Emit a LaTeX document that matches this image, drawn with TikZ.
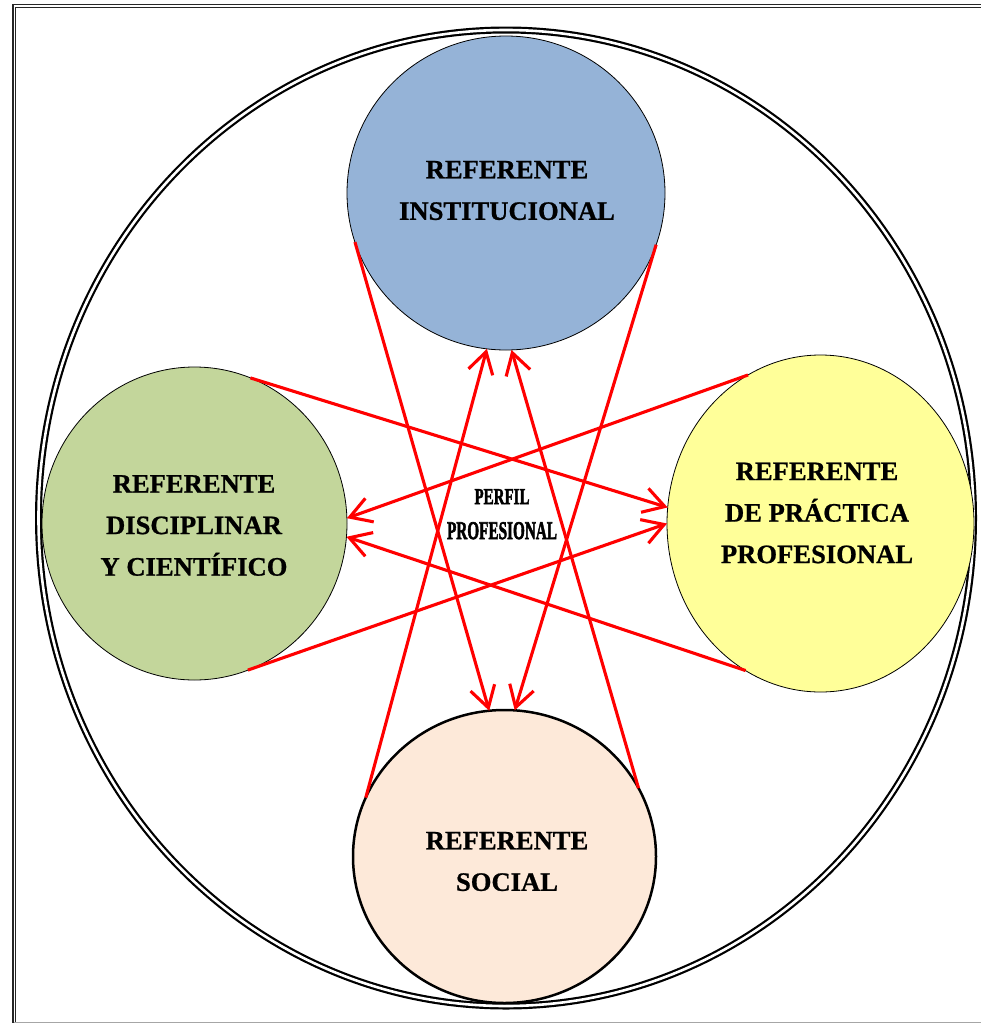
\documentclass[tikz,border=0pt]{standalone}
\usepackage{fontspec}
\setmainfont{Liberation Serif}
\usepackage{graphicx}
\usetikzlibrary{shapes.geometric,arrows.meta}
\definecolor{cblue}{HTML}{95B3D7}
\definecolor{cgreen}{HTML}{C3D69B}
\definecolor{cyellow}{HTML}{FFFF99}
\definecolor{cpeach}{HTML}{FDE9D9}
\definecolor{cred}{HTML}{FF0000}
\tikzset{
  refcircle/.style={ellipse, draw=black, line width=0.8pt, inner sep=0pt, outer sep=0pt},
  lbl/.style={align=center, inner sep=0pt, font=\bfseries\addfontfeature{FakeBold=0.8}\fontsize{26.6}{41.5}\selectfont},
  arr/.style={draw=cred, line width=3.1pt, -{Straight Barb[length=21pt,width=25pt]}},
  ring/.style={draw=black, line width=2.2pt, double=white, double distance=2.6pt},
  frameline/.style={draw=black!85, line width=1.3pt, double=white, double distance=1.3pt}
}
\begin{document}
\begin{tikzpicture}[x=1pt,y=-1pt]
\useasboundingbox (0,0) rectangle (981,1023);
\fill[white] (0,0) rectangle (981,1023);
% frame
\draw[frameline] (14.3,1023) -- (14.3,6) -- (981,6);
\draw[draw=black!35, line width=1.2pt] (14,1022.4) -- (981,1022.4);
% outer ring
\draw[ring] (506,518) ellipse [x radius=467.5, y radius=488];
% circles
\node[refcircle, fill=cblue, minimum width=318pt, minimum height=314pt] (inst) at (506,193) {};
\node[refcircle, fill=cgreen, minimum width=305pt, minimum height=313pt] (disc) at (194.5,523.5) {};
\node[refcircle, fill=cyellow, minimum width=307pt, minimum height=337pt] (prac) at (820.5,523.5) {};
\node[refcircle, fill=cpeach, line width=2.5pt, minimum width=303pt, minimum height=293pt] (soc) at (504.5,856.5) {};
% arrows
\draw[arr] (inst.198.3) -- (soc.96.8);
\draw[arr] (inst.341.7) -- (soc.86.7);
\draw[arr] (soc.157.5) -- (inst.263.2);
\draw[arr] (soc.27.7) -- (inst.272.5);
\draw[arr] (disc.69.6) -- (prac.174.2);
\draw[arr] (disc.290.9) -- (prac.180.2);
\draw[arr] (prac.116.3) -- (disc.2.4);
\draw[arr] (prac.243.5) -- (disc.355.7);
% texts
\node[lbl] (tinst) at (507,190.5) {REFERENTE\\INSTITUCIONAL};
\node[lbl] (tdisc) at (194,525.5) {REFERENTE\\DISCIPLINAR\\Y CIENTÍFICO};
\node[lbl] (tprac) at (817,513) {REFERENTE\\DE PRÁCTICA\\PROFESIONAL};
\node[lbl] (tsoc) at (507,861.5) {REFERENTE\\SOCIAL};
\node[align=center, inner sep=0pt, font=\bfseries\addfontfeature{FakeBold=2.5}\fontsize{20}{35}\selectfont] (perfil) at (502,514.2)
  {\resizebox{55pt}{15pt}{PERFIL}\\\resizebox{110pt}{17pt}{PROFESIONAL}};
\end{tikzpicture}
\end{document}
